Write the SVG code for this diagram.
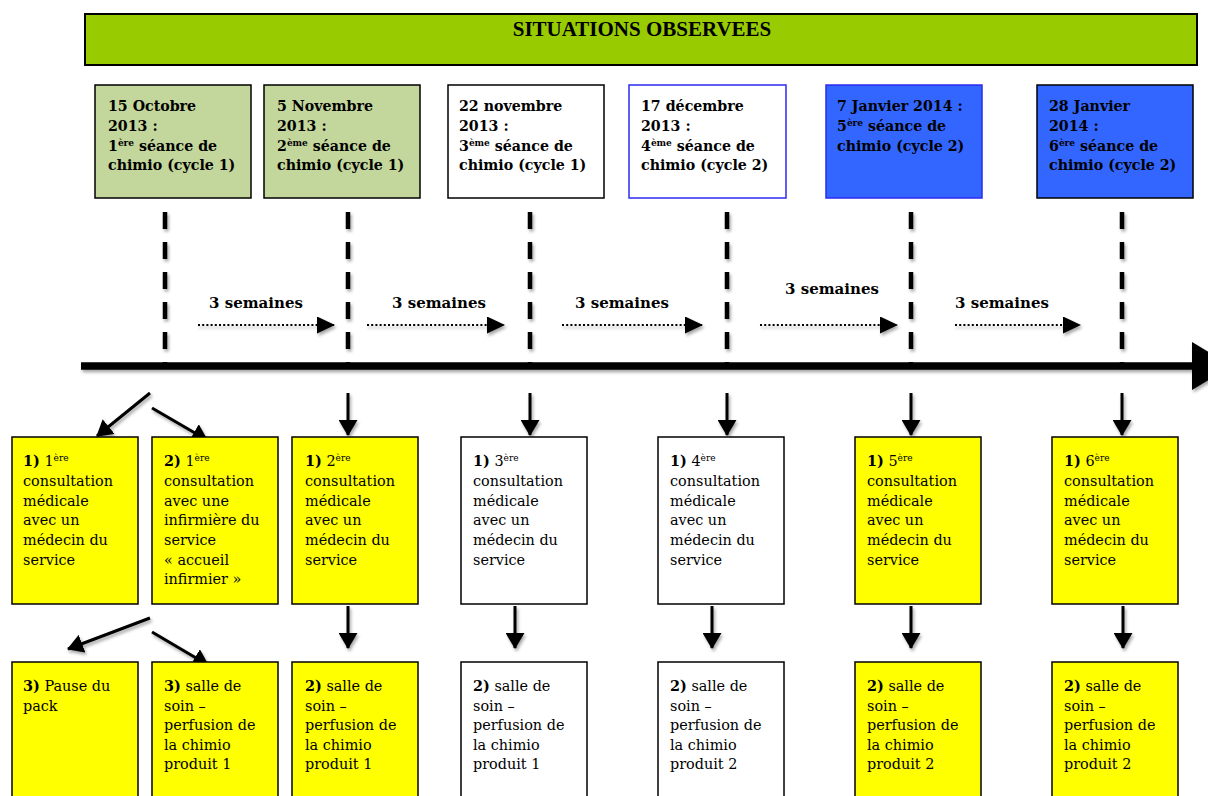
<svg xmlns="http://www.w3.org/2000/svg" width="1208" height="796" viewBox="0 0 1208 796">
<style>
.hdr{font-family:"Liberation Serif",serif;font-weight:bold;font-size:21px;fill:#000}
.dt{font-family:"DejaVu Serif",serif;font-weight:bold;font-size:14.2px;fill:#000}
.tx{font-family:"DejaVu Serif",serif;font-size:14.4px;fill:#000}
.b{font-weight:bold}
.sup{font-size:9px}
.wk{font-family:"DejaVu Serif",serif;font-weight:bold;font-size:15px;fill:#000}
.box{stroke:#000;stroke-width:1.5}
.y{fill:#FFFF00}
.w{fill:#FFFFFF}
.dash{stroke:#000;stroke-width:4.5;stroke-dasharray:17 13;fill:none}
.dot{stroke:#000;stroke-width:2;stroke-dasharray:2 2.2;fill:none}
.arr{stroke:#000;stroke-width:3;fill:none}
</style>
<defs>
<filter id="sh" filterUnits="userSpaceOnUse" x="0" y="0" width="1208" height="796">
<feDropShadow dx="1.5" dy="2.5" stdDeviation="1.8" flood-color="#000" flood-opacity="0.35"/>
</filter>
<marker id="ah" markerUnits="userSpaceOnUse" markerWidth="16" markerHeight="19" viewBox="0 0 16 19" refX="15" refY="9.5" orient="auto">
<path d="M0,0 L16,9.5 L0,19 z" fill="#000"/>
</marker>
<marker id="dh" markerUnits="userSpaceOnUse" markerWidth="18" markerHeight="17" viewBox="0 0 18 17" refX="17" refY="8.5" orient="auto">
<path d="M0,0 L18,8.5 L0,17 z" fill="#000"/>
</marker>
</defs>
<rect width="1208" height="796" fill="#fff"/>

<g id="header">
<rect x="85" y="14" width="1112" height="51" fill="#99CC00" stroke="#000" stroke-width="2"/>
<text class="hdr" x="642" y="36" text-anchor="middle">SITUATIONS OBSERVEES</text>
</g>

<g id="dates">
<g id="d1">
<rect x="95" y="85" width="156" height="113" fill="#C3D69B" class="box"/>
<text class="dt" x="108" y="111">15 Octobre</text>
<text class="dt" x="108" y="131">2013 :</text>
<text class="dt" x="108" y="151">1<tspan class="sup" dy="-5">ère</tspan><tspan dy="5"> séance de</tspan></text>
<text class="dt" x="108" y="170">chimio (cycle 1)</text>
</g>
<g id="d2">
<rect x="264" y="85" width="156" height="113" fill="#C3D69B" class="box"/>
<text class="dt" x="277" y="111">5 Novembre</text>
<text class="dt" x="277" y="131">2013 :</text>
<text class="dt" x="277" y="151">2<tspan class="sup" dy="-5">ème</tspan><tspan dy="5"> séance de</tspan></text>
<text class="dt" x="277" y="170">chimio (cycle 1)</text>
</g>
<g id="d3">
<rect x="448" y="85" width="156" height="113" fill="#fff" class="box"/>
<text class="dt" x="459" y="111">22 novembre</text>
<text class="dt" x="459" y="131">2013 :</text>
<text class="dt" x="459" y="151">3<tspan class="sup" dy="-5">ème</tspan><tspan dy="5"> séance de</tspan></text>
<text class="dt" x="459" y="170">chimio (cycle 1)</text>
</g>
<g id="d4">
<rect x="629" y="85" width="157" height="113" fill="#fff" stroke="#2B2BF0" stroke-width="1.5"/>
<text class="dt" x="641" y="111">17 décembre</text>
<text class="dt" x="641" y="131">2013 :</text>
<text class="dt" x="641" y="151">4<tspan class="sup" dy="-5">ème</tspan><tspan dy="5"> séance de</tspan></text>
<text class="dt" x="641" y="170">chimio (cycle 2)</text>
</g>
<g id="d5">
<rect x="826" y="85" width="156" height="113" fill="#3366FF" stroke="#2B2BF0" stroke-width="1.5"/>
<text class="dt" x="837" y="111">7 Janvier 2014 :</text>
<text class="dt" x="837" y="131">5<tspan class="sup" dy="-5">ère</tspan><tspan dy="5"> séance de</tspan></text>
<text class="dt" x="837" y="151">chimio (cycle 2)</text>
</g>
<g id="d6">
<rect x="1037" y="85" width="156" height="113" fill="#3366FF" class="box"/>
<text class="dt" x="1049" y="111">28 Janvier</text>
<text class="dt" x="1049" y="131">2014 :</text>
<text class="dt" x="1049" y="151">6<tspan class="sup" dy="-5">ère</tspan><tspan dy="5"> séance de</tspan></text>
<text class="dt" x="1049" y="170">chimio (cycle 2)</text>
</g>
</g>

<g id="connectors">
<g filter="url(#sh)">
<line class="dash" x1="165" y1="212" x2="165" y2="364"/>
<line class="dash" x1="348" y1="212" x2="348" y2="364"/>
<line class="dash" x1="530" y1="212" x2="530" y2="364"/>
<line class="dash" x1="727" y1="212" x2="727" y2="364"/>
<line class="dash" x1="911" y1="212" x2="911" y2="364"/>
<line class="dash" x1="1122" y1="212" x2="1122" y2="364"/>
<line x1="81" y1="366" x2="1196" y2="366" stroke="#000" stroke-width="7.5"/>
<polygon points="1192,342 1192,390 1232,366" fill="#000"/>
</g>
<g filter="url(#sh)">
<line class="dot" x1="198" y1="325" x2="334" y2="325" marker-end="url(#dh)"/>
<line class="dot" x1="367" y1="325" x2="504" y2="325" marker-end="url(#dh)"/>
<line class="dot" x1="562" y1="325" x2="702" y2="325" marker-end="url(#dh)"/>
<line class="dot" x1="760" y1="325" x2="897" y2="325" marker-end="url(#dh)"/>
<line class="dot" x1="955" y1="325" x2="1080" y2="325" marker-end="url(#dh)"/>
</g>
<g filter="url(#sh)">
<line class="arr" x1="150" y1="393" x2="97" y2="436" marker-end="url(#ah)"/>
<line class="arr" x1="152" y1="408" x2="207" y2="440" marker-end="url(#ah)"/>
<line class="arr" x1="348" y1="393" x2="348" y2="435" marker-end="url(#ah)"/>
<line class="arr" x1="530" y1="393" x2="530" y2="435" marker-end="url(#ah)"/>
<line class="arr" x1="727" y1="393" x2="727" y2="435" marker-end="url(#ah)"/>
<line class="arr" x1="911" y1="393" x2="911" y2="435" marker-end="url(#ah)"/>
<line class="arr" x1="1122" y1="393" x2="1122" y2="435" marker-end="url(#ah)"/>
<line class="arr" x1="150" y1="618" x2="68" y2="649" marker-end="url(#ah)"/>
<line class="arr" x1="152" y1="632" x2="208" y2="665" marker-end="url(#ah)"/>
<line class="arr" x1="348" y1="606" x2="348" y2="648" marker-end="url(#ah)"/>
<line class="arr" x1="515" y1="606" x2="515" y2="648" marker-end="url(#ah)"/>
<line class="arr" x1="712" y1="606" x2="712" y2="648" marker-end="url(#ah)"/>
<line class="arr" x1="911" y1="606" x2="911" y2="648" marker-end="url(#ah)"/>
<line class="arr" x1="1123" y1="606" x2="1123" y2="648" marker-end="url(#ah)"/>
</g>
</g>

<g id="weeks">
<text class="wk" x="256" y="308" text-anchor="middle">3 semaines</text>
<text class="wk" x="439" y="308" text-anchor="middle">3 semaines</text>
<text class="wk" x="622" y="308" text-anchor="middle">3 semaines</text>
<text class="wk" x="832" y="294" text-anchor="middle">3 semaines</text>
<text class="wk" x="1002" y="308" text-anchor="middle">3 semaines</text>
</g>

<g id="row1">
<g id="r1a">
<rect x="12" y="437" width="126" height="167" class="box y"/>
<text class="tx"><tspan x="23" y="466"><tspan class="b">1)</tspan> 1<tspan class="sup" dy="-5">ère</tspan></tspan><tspan x="23" y="486">consultation</tspan><tspan x="23" y="505.5">médicale</tspan><tspan x="23" y="525">avec un</tspan><tspan x="23" y="545">médecin du</tspan><tspan x="23" y="564.5">service</tspan></text>
</g>
<g id="r1b">
<rect x="152" y="437" width="126" height="167" class="box y"/>
<text class="tx"><tspan x="164" y="466"><tspan class="b">2)</tspan> 1<tspan class="sup" dy="-5">ère</tspan></tspan><tspan x="164" y="486">consultation</tspan><tspan x="164" y="505.5">avec une</tspan><tspan x="164" y="525">infirmière du</tspan><tspan x="164" y="545">service</tspan><tspan x="164" y="564.5">« accueil</tspan><tspan x="164" y="584">infirmier »</tspan></text>
</g>
<g id="r1c">
<rect x="292" y="437" width="126" height="167" class="box y"/>
<text class="tx"><tspan x="305" y="466"><tspan class="b">1)</tspan> 2<tspan class="sup" dy="-5">ère</tspan></tspan><tspan x="305" y="486">consultation</tspan><tspan x="305" y="505.5">médicale</tspan><tspan x="305" y="525">avec un</tspan><tspan x="305" y="545">médecin du</tspan><tspan x="305" y="564.5">service</tspan></text>
</g>
<g id="r1d">
<rect x="461" y="437" width="126" height="167" class="box w"/>
<text class="tx"><tspan x="473" y="466"><tspan class="b">1)</tspan> 3<tspan class="sup" dy="-5">ère</tspan></tspan><tspan x="473" y="486">consultation</tspan><tspan x="473" y="505.5">médicale</tspan><tspan x="473" y="525">avec un</tspan><tspan x="473" y="545">médecin du</tspan><tspan x="473" y="564.5">service</tspan></text>
</g>
<g id="r1e">
<rect x="658" y="437" width="126" height="167" class="box w"/>
<text class="tx"><tspan x="670" y="466"><tspan class="b">1)</tspan> 4<tspan class="sup" dy="-5">ère</tspan></tspan><tspan x="670" y="486">consultation</tspan><tspan x="670" y="505.5">médicale</tspan><tspan x="670" y="525">avec un</tspan><tspan x="670" y="545">médecin du</tspan><tspan x="670" y="564.5">service</tspan></text>
</g>
<g id="r1f">
<rect x="855" y="437" width="126" height="167" class="box y"/>
<text class="tx"><tspan x="867" y="466"><tspan class="b">1)</tspan> 5<tspan class="sup" dy="-5">ère</tspan></tspan><tspan x="867" y="486">consultation</tspan><tspan x="867" y="505.5">médicale</tspan><tspan x="867" y="525">avec un</tspan><tspan x="867" y="545">médecin du</tspan><tspan x="867" y="564.5">service</tspan></text>
</g>
<g id="r1g">
<rect x="1052" y="437" width="126" height="167" class="box y"/>
<text class="tx"><tspan x="1064" y="466"><tspan class="b">1)</tspan> 6<tspan class="sup" dy="-5">ère</tspan></tspan><tspan x="1064" y="486">consultation</tspan><tspan x="1064" y="505.5">médicale</tspan><tspan x="1064" y="525">avec un</tspan><tspan x="1064" y="545">médecin du</tspan><tspan x="1064" y="564.5">service</tspan></text>
</g>
</g>

<g id="row2">
<g id="r2a">
<rect x="12" y="662" width="126" height="160" class="box y"/>
<text class="tx"><tspan x="23" y="691"><tspan class="b">3)</tspan> Pause du</tspan><tspan x="23" y="710.5">pack</tspan></text>
</g>
<g id="r2b">
<rect x="152" y="662" width="126" height="160" class="box y"/>
<text class="tx"><tspan x="164" y="691"><tspan class="b">3)</tspan> salle de</tspan><tspan x="164" y="710.5">soin –</tspan><tspan x="164" y="730">perfusion de</tspan><tspan x="164" y="749.5">la chimio</tspan><tspan x="164" y="769">produit 1</tspan></text>
</g>
<g id="r2c">
<rect x="292" y="662" width="126" height="160" class="box y"/>
<text class="tx"><tspan x="305" y="691"><tspan class="b">2)</tspan> salle de</tspan><tspan x="305" y="710.5">soin –</tspan><tspan x="305" y="730">perfusion de</tspan><tspan x="305" y="749.5">la chimio</tspan><tspan x="305" y="769">produit 1</tspan></text>
</g>
<g id="r2d">
<rect x="461" y="662" width="126" height="160" class="box w"/>
<text class="tx"><tspan x="473" y="691"><tspan class="b">2)</tspan> salle de</tspan><tspan x="473" y="710.5">soin –</tspan><tspan x="473" y="730">perfusion de</tspan><tspan x="473" y="749.5">la chimio</tspan><tspan x="473" y="769">produit 1</tspan></text>
</g>
<g id="r2e">
<rect x="658" y="662" width="126" height="160" class="box w"/>
<text class="tx"><tspan x="670" y="691"><tspan class="b">2)</tspan> salle de</tspan><tspan x="670" y="710.5">soin –</tspan><tspan x="670" y="730">perfusion de</tspan><tspan x="670" y="749.5">la chimio</tspan><tspan x="670" y="769">produit 2</tspan></text>
</g>
<g id="r2f">
<rect x="855" y="662" width="126" height="160" class="box y"/>
<text class="tx"><tspan x="867" y="691"><tspan class="b">2)</tspan> salle de</tspan><tspan x="867" y="710.5">soin –</tspan><tspan x="867" y="730">perfusion de</tspan><tspan x="867" y="749.5">la chimio</tspan><tspan x="867" y="769">produit 2</tspan></text>
</g>
<g id="r2g">
<rect x="1052" y="662" width="126" height="160" class="box y"/>
<text class="tx"><tspan x="1064" y="691"><tspan class="b">2)</tspan> salle de</tspan><tspan x="1064" y="710.5">soin –</tspan><tspan x="1064" y="730">perfusion de</tspan><tspan x="1064" y="749.5">la chimio</tspan><tspan x="1064" y="769">produit 2</tspan></text>
</g>
</g>
</svg>
